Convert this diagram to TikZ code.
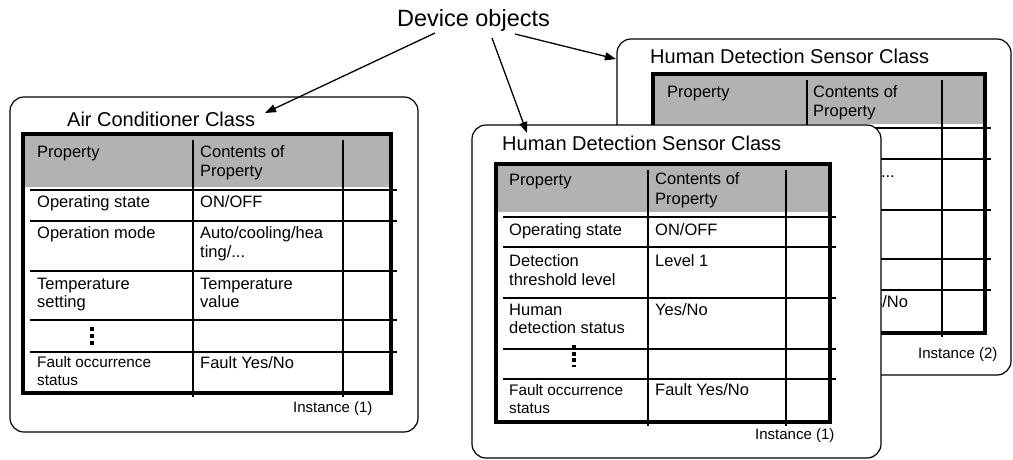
\documentclass[tikz,border=0pt]{standalone}
\usepackage{fontspec}
\setmainfont{Liberation Sans}
\usetikzlibrary{arrows.meta}
\newcommand\bodyfs{\fontsize{16.5}{19}\selectfont}
\newcommand\smallfs{\fontsize{15.3}{18}\selectfont}
\newcommand\titlefs{\fontsize{20}{23}\selectfont}
\newcommand\devfs{\fontsize{23.5}{27}\selectfont}
\newcommand\instfs{\fontsize{15}{18}\selectfont}
\newcommand\celltext[5][txt]{\node[#1] (#2) at (#3,#4) {#5};}
% left, top, right, bottom, col1, col2, gray bottom, row lines
\newcommand\tablegrid[8]{%
  \fill[headfill] (#1,#2) rectangle (#3,#7);
  \foreach \r in {#8} \draw[thinln] (#1+7,\r) -- (#3+6,\r);
  \draw[thinln] (#5,#2+6) -- (#5,#4+4);
  \draw[thinln] (#6,#2+6) -- (#6,#4+4);
  \draw[thickln] (#1,#2) rectangle (#3,#4);
}
\begin{document}
\begin{tikzpicture}[x=1pt,y=-1pt,
  txt/.style={anchor=base west,inner sep=0pt,font=\bodyfs},
  smalltxt/.style={txt,font=\smallfs},
  titletxt/.style={txt,font=\titlefs},
  insttxt/.style={txt,font=\instfs},
  headfill/.style={fill=black!30},
  thinln/.style={line width=1.3pt,black},
  thickln/.style={line width=3.6pt,black},
  classbox/.style={draw,line width=1.2pt,fill=white,rounded corners=14pt,inner sep=0pt},
  devarrow/.style={line width=1.3pt,-{Triangle[length=11pt,width=8pt]}}]
\useasboundingbox (0,0) rectangle (1013,459);
\fill[white] (0,0) rectangle (1013,459);

% ---------- Air Conditioner Class ----------
\node[classbox,minimum width=408pt,minimum height=335pt] (acbox) at (214,264.5) {};
\tablegrid{23}{134}{391}{393}{193}{343}{187}{190,221,271,320,352}
\celltext[titletxt]{actitle}{67}{126}{Air Conditioner Class}
\celltext{ach1}{37}{157}{Property}
\celltext{ach2a}{200}{157}{Contents of}
\celltext{ach2b}{200}{176}{Property}
\celltext{ac1a}{37}{207}{Operating state}
\celltext{ac1b}{200}{207}{ON/OFF}
\celltext{ac2a}{37}{238}{Operation mode}
\celltext{ac2b}{200}{238}{Auto/cooling/hea}
\celltext{ac2c}{200}{257}{ting/...}
\celltext{ac3a}{37}{289}{Temperature}
\celltext{ac3b}{37}{307}{setting}
\celltext{ac3c}{200}{289}{Temperature}
\celltext{ac3d}{200}{307}{value}
\fill (90,326.5) rectangle (94,330.5);
\fill (90,333.5) rectangle (94,337.5);
\fill (90,340.5) rectangle (94,344.5);
\celltext[smalltxt]{ac5a}{37}{367}{Fault occurrence}
\celltext[smalltxt]{ac5b}{37}{385}{status}
\celltext{ac5c}{200}{368}{Fault Yes/No}
\celltext[insttxt]{acinst}{293}{412}{Instance (1)}

% ---------- Human Detection Sensor Class, instance (2) ----------
\node[classbox,minimum width=394pt,minimum height=336pt] (hbbox) at (814,207) {};
\tablegrid{653}{74}{985}{333}{807}{942}{124}{128,159,210,259,290}
\celltext[titletxt]{hbtitle}{650}{63}{Human Detection Sensor Class}
\celltext{hbh1}{667}{97}{Property}
\celltext{hbh2a}{813}{97}{Contents of}
\celltext{hbh2b}{813}{116}{Property}
\node[anchor=base east,inner sep=0pt,font=\bodyfs] (hb2b) at (895,177) {...};
\celltext{hb5c}{814}{307}{Fault Yes/No}
\celltext[insttxt]{hbinst}{918}{358}{Instance (2)}

% ---------- Human Detection Sensor Class, instance (1) ----------
\node[classbox,minimum width=409pt,minimum height=333pt] (hfbox) at (676.5,291.5) {};
\tablegrid{496}{164}{830}{422}{648}{786}{212}{217,247,298,349,379}
\celltext[titletxt]{hftitle}{502}{150}{Human Detection Sensor Class}
\celltext{hfh1}{509}{185}{Property}
\celltext{hfh2a}{655}{184}{Contents of}
\celltext{hfh2b}{655}{204}{Property}
\celltext{hf1a}{509}{235}{Operating state}
\celltext{hf1b}{655}{235}{ON/OFF}
\celltext{hf2a}{509}{266}{Detection}
\celltext{hf2b}{509}{285}{threshold level}
\celltext{hf2c}{655}{266}{Level 1}
\celltext{hf3a}{509}{315}{Human}
\celltext{hf3b}{509}{333}{detection status}
\celltext{hf3c}{655}{315}{Yes/No}
\fill (572,345) rectangle (576,349);
\fill (572,351.5) rectangle (576,355.5);
\fill (572,358) rectangle (576,362);
\fill (572,364.5) rectangle (576,366.5);
\celltext[smalltxt]{hf5a}{509}{395}{Fault occurrence}
\celltext[smalltxt]{hf5b}{509}{413}{status}
\celltext{hf5c}{655}{395}{Fault Yes/No}
\celltext[insttxt]{hfinst}{755}{439}{Instance (1)}

% ---------- Device objects ----------
\node[anchor=base,inner sep=0pt,font=\devfs] (dev) at (473.5,26) {Device objects};
\coordinate (d1s) at (435,33);
\coordinate (d1e) at (265,113);
\coordinate (d2s) at (492,38);
\coordinate (d2e) at (527,133);
\coordinate (d3s) at (515,34);
\coordinate (d3e) at (616,59);
\draw[devarrow] (d1s) -- (d1e);
\draw[devarrow] (d2s) -- (d2e);
\draw[devarrow] (d3s) -- (d3e);
\end{tikzpicture}
\end{document}
